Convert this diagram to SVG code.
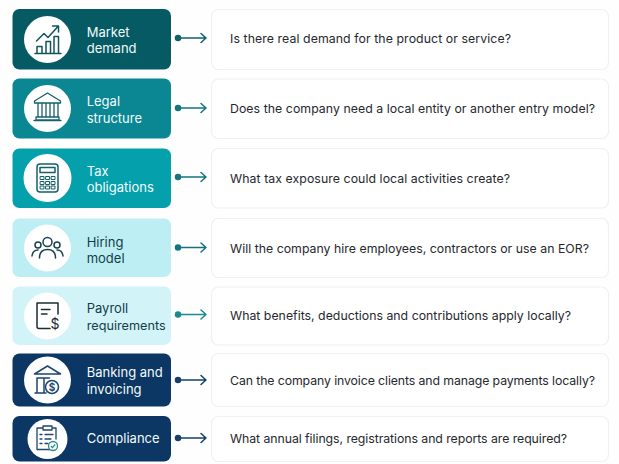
<svg xmlns="http://www.w3.org/2000/svg" width="619" height="464" viewBox="0 0 619 464">
<style>
text{font-family:Inter,"Liberation Sans",sans-serif}
.lbl{font-size:13px;font-weight:400}
.lt{fill:#f2fbfb}.dk{fill:#123f49}
.q{font-size:12.300px;fill:#26282c}
.card{fill:#fff;stroke:#eef0f1;stroke-width:1.2}
.ic{fill:none;stroke-width:1.500;stroke-linecap:round;stroke-linejoin:round}
.conn{fill:none;stroke-width:1.500;stroke-linecap:round;stroke-linejoin:round}
</style>
<rect width="619" height="464" fill="#fefefe"/>
<g id="connectors">
<g stroke="#11616a" class="conn"><path d="M178 38H206M201 33.500L206 38L201 42.500"/><circle cx="178" cy="38" r="2.500" fill="#11616a"/></g>
<g stroke="#14747f" class="conn"><path d="M178 108H206M201 103.500L206 108L201 112.500"/><circle cx="178" cy="108" r="2.500" fill="#14747f"/></g>
<g stroke="#14747f" class="conn"><path d="M178 177H206M201 172.500L206 177L201 181.500"/><circle cx="178" cy="177" r="2.500" fill="#14747f"/></g>
<g stroke="#14747f" class="conn"><path d="M178 247.500H206M201 243L206 247.500L201 252"/><circle cx="178" cy="247.500" r="2.500" fill="#14747f"/></g>
<g stroke="#1a8a90" class="conn"><path d="M178 314.500H206M201 310L206 314.500L201 319"/><circle cx="178" cy="314.500" r="2.500" fill="#1a8a90"/></g>
<g stroke="#17406b" class="conn"><path d="M178 380H206M201 375.500L206 380L201 384.500"/><circle cx="178" cy="380" r="2.500" fill="#17406b"/></g>
<g stroke="#17406b" class="conn"><path d="M178 438H206M201 433.500L206 438L201 442.500"/><circle cx="178" cy="438" r="2.500" fill="#17406b"/></g>
</g>
<g id="market">
<rect x="12.500" y="9" width="158.500" height="60.500" rx="7" fill="#065a64"/>
<circle cx="47.500" cy="39.500" r="23.500" fill="#fff"/>
<g class="ic" stroke="#11545e"><path d="M35 53.500H61M37 53V46.500H42V53M46 53V41.500H50.500V53M54 53V36.500H58.500V53M36.500 41L44 33.500L48 37.500L58 26.500M52.500 26H58.500V32"/></g>
<text class="lbl lt" x="86.700" y="36.500">Market</text><text class="lbl lt" x="86.700" y="53">demand</text>
</g>
<g id="legal">
<rect x="12.500" y="78.500" width="158.500" height="60" rx="7" fill="#0b8793"/>
<circle cx="47.500" cy="108.500" r="23.500" fill="#fff"/>
<g class="ic" stroke="#14606b"><path d="M34.500 101L47.500 93L60.500 101V103H34.500ZM38 103V117M42 103V117M46 103V117M50 103V117M54 103V117M58 103V117M36 117H59V120H36ZM34 120.500H61" stroke-width="1.300"/></g>
<text class="lbl lt" x="86.700" y="106">Legal</text><text class="lbl lt" x="86.700" y="122.500">structure</text>
</g>
<g id="tax">
<rect x="12.500" y="148.500" width="158.500" height="59.500" rx="7" fill="#04a0ac"/>
<circle cx="47.500" cy="178" r="24" fill="#fff"/>
<g class="ic" stroke="#14606b"><rect x="37" y="164" width="21" height="28" rx="3"/><rect x="40" y="167.500" width="15" height="5"/><path d="M40.500 176.500h3.500v3h-3.500zM46 176.500h3.500v3h-3.500zM51.500 176.500h3.500v3h-3.500zM40.500 181.500h3.500v3h-3.500zM46 181.500h3.500v3h-3.500zM51.500 181.500h3.500v3h-3.500zM40.500 186h3.500v3h-3.500zM46 186h3.500v3h-3.500zM51.500 186h3.500v3h-3.500z" stroke-width="1"/></g>
<text class="lbl lt" x="86.700" y="175.500">Tax</text><text class="lbl lt" x="86.700" y="192">obligations</text>
</g>
<g id="hiring">
<rect x="12.500" y="218.500" width="158.500" height="58.500" rx="7" fill="#bdeef3"/>
<circle cx="47.500" cy="248" r="23.500" fill="#fff"/>
<g class="ic" stroke="#18424c"><circle cx="47.500" cy="242" r="4.500"/><circle cx="38" cy="245" r="3"/><circle cx="57" cy="245" r="3"/><path d="M39.500 258C39.500 252 43 249.500 47.500 249.500S55.500 252 55.500 258M32 256C32.500 252 35 250 38 250M63 256C62.500 252 60 250 57 250"/></g>
<text class="lbl dk" x="86.700" y="246.500">Hiring</text><text class="lbl dk" x="86.700" y="263">model</text>
</g>
<g id="payroll">
<rect x="12.500" y="286.500" width="158.500" height="58.500" rx="7" fill="#d2f3f7"/>
<circle cx="47.500" cy="316" r="23.500" fill="#fff"/>
<g class="ic" stroke="#1b2c33"><path d="M50 328.500H39C37.500 328.500 37 328 37 326.500V303H58V314M41.500 309.500H50M41.500 314H47"/></g>
<text x="50.500" y="329" font-size="14" fill="#1b2c33">$</text>
<text class="lbl dk" x="86.700" y="312.500">Payroll</text><text class="lbl dk" x="86.700" y="330" style="font-size:12.700px">requirements</text>
</g>
<g id="banking">
<rect x="12.500" y="353.500" width="158.500" height="53" rx="7" fill="#0c3764"/>
<circle cx="47.500" cy="380" r="23.500" fill="#fff"/>
<g class="ic" stroke="#1d4670"><path d="M34.500 374L47.500 366L60.500 374ZM37 378V392M44 378V392M49.500 378H37M35 393H46"/><circle cx="52" cy="387" r="6.500" fill="#fff"/></g>
<text x="52" y="390.500" font-size="10" font-weight="700" text-anchor="middle" fill="#1d4670">$</text>
<text class="lbl lt" x="86.700" y="376.500">Banking and</text><text class="lbl lt" x="86.700" y="393.500">invoicing</text>
</g>
<g id="compliance">
<rect x="12.500" y="416" width="158.500" height="45.500" rx="7" fill="#0c3764"/>
<circle cx="47.500" cy="439" r="20" fill="#fff"/>
<g class="ic" stroke="#1d4670"><path d="M50 449.500H37V428H42M53 428H56V439M43 426H52V430H43ZM40 434.500H42M45 434.500H53M40 439H42M45 439H51M40 443.500H42M45 443.500H48" stroke-width="1.300"/></g>
<circle cx="53" cy="446" r="4.500" fill="#fff" stroke="#2a8a8f" stroke-width="1.300"/><path d="M50.800 446L52.500 447.700L55.200 444.500" fill="none" stroke="#2a8a8f" stroke-width="1.200"/>
<text class="lbl lt" x="86.700" y="443">Compliance</text>
</g>
<g id="q1"><rect class="card" x="211.500" y="9.500" width="397" height="60" rx="7"/><text class="q" x="230" y="43" textLength="281">Is there real demand for the product or service?</text></g>
<g id="q2"><rect class="card" x="211.500" y="79" width="397" height="59.500" rx="7"/><text class="q" x="230" y="113" textLength="365">Does the company need a local entity or another entry model?</text></g>
<g id="q3"><rect class="card" x="211.500" y="148.500" width="397" height="59.500" rx="7"/><text class="q" x="230" y="182.500" textLength="280">What tax exposure could local activities create?</text></g>
<g id="q4"><rect class="card" x="211.500" y="218.500" width="397" height="59" rx="7"/><text class="q" x="230" y="252.500" textLength="359">Will the company hire employees, contractors or use an EOR?</text></g>
<g id="q5"><rect class="card" x="211.500" y="287" width="397" height="58" rx="7"/><text class="q" x="230" y="320" textLength="341">What benefits, deductions and contributions apply locally?</text></g>
<g id="q6"><rect class="card" x="211.500" y="353.500" width="397" height="53" rx="7"/><text class="q" x="230" y="385" textLength="365">Can the company invoice clients and manage payments locally?</text></g>
<g id="q7"><rect class="card" x="211.500" y="416.500" width="397" height="45" rx="7"/><text class="q" x="230" y="443" textLength="337">What annual filings, registrations and reports are required?</text></g>
</svg>
